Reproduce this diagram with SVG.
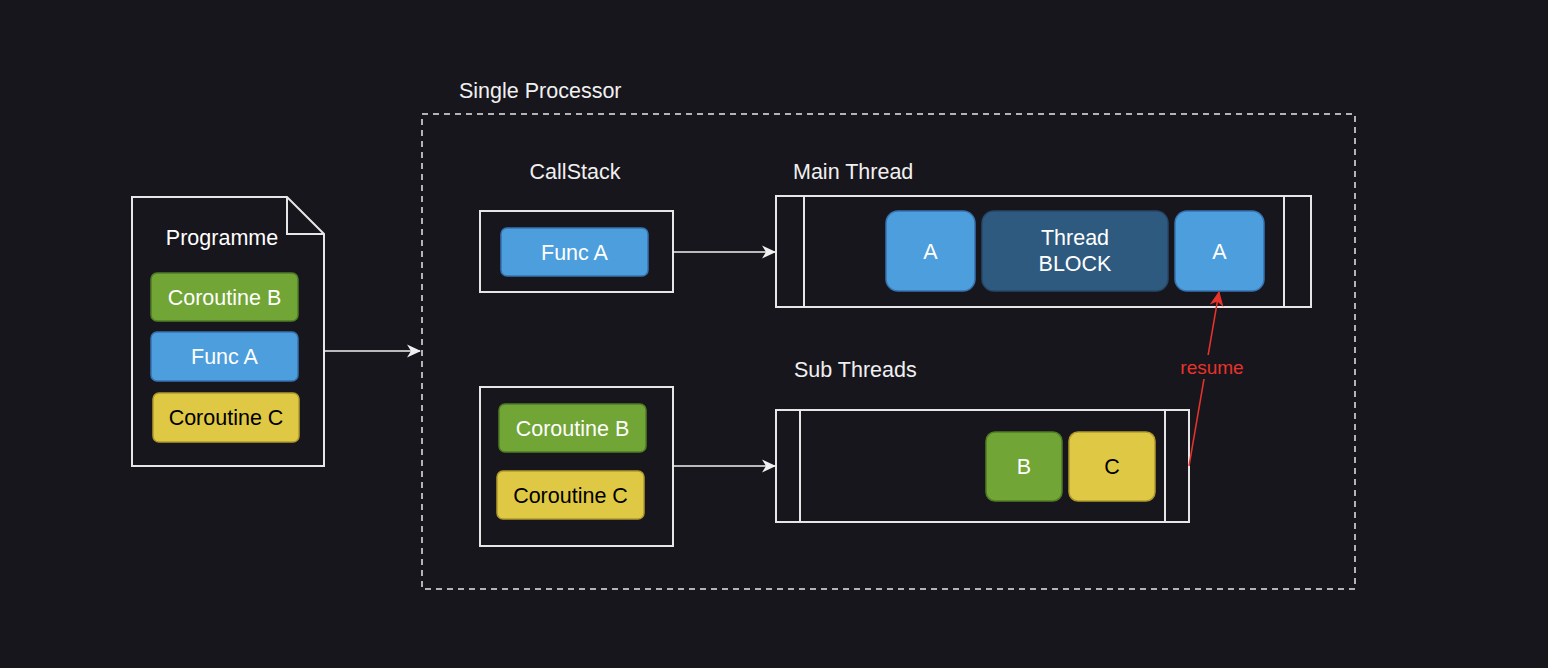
<svg xmlns="http://www.w3.org/2000/svg" width="1548" height="668" viewBox="0 0 1548 668">
<defs>
<style>
text{font-family:"Liberation Sans",Arial,sans-serif;font-size:21.5px;}
.w{fill:#ffffff;}
.k{fill:#000000;}
.lbl{fill:#f0f0f0;}
.c{text-anchor:middle;}
.frame{fill:#18161d;stroke:#e6e6e6;stroke-width:2;}
.blue{fill:#4c9edc;stroke:#3673b0;stroke-width:1.5;}
.green{fill:#71a535;stroke:#4f7c24;stroke-width:1.5;}
.yellow{fill:#dfc843;stroke:#b09a2c;stroke-width:1.5;}
.dark{fill:#2f5a7f;stroke:#24486a;stroke-width:1.5;}
.conn{fill:none;stroke:#f0f0f0;stroke-width:1.5;}
</style>
<marker id="arr" viewBox="0 0 14 14" refX="13" refY="7" markerWidth="14" markerHeight="14" markerUnits="userSpaceOnUse" orient="auto">
<path d="M0,0.5 L14,7 L0,13.5 L4,7 Z" fill="#f0f0f0"/>
</marker>
<marker id="arrR" viewBox="0 0 14 14" refX="13" refY="7" markerWidth="15" markerHeight="15" markerUnits="userSpaceOnUse" orient="auto">
<path d="M0,0.5 L14,7 L0,13.5 L4,7 Z" fill="#e8332a"/>
</marker>
</defs>
<rect width="1548" height="668" fill="#18161d"/>

<g id="processor">
<rect x="422" y="114" width="933" height="475" fill="none" stroke="#e6e6e6" stroke-width="1.5" stroke-dasharray="6 5"/>
<text class="lbl" x="459" y="98">Single Processor</text>
</g>

<g id="programme">
<path class="frame" d="M132,197 L287,197 L324,234 L324,466 L132,466 Z"/>
<path d="M287,197 L287,234 L324,234" fill="none" stroke="#e6e6e6" stroke-width="2"/>
<text class="w c" x="222" y="245">Programme</text>
<rect class="green" x="151" y="273" width="147" height="48" rx="6"/>
<text class="w c" x="224.5" y="305">Coroutine B</text>
<rect class="blue" x="151" y="332" width="147" height="49" rx="6"/>
<text class="w c" x="224.5" y="364">Func A</text>
<rect class="yellow" x="153" y="393" width="146" height="49" rx="6"/>
<text class="k c" x="226" y="425">Coroutine C</text>
</g>

<g id="callstack">
<text class="lbl c" x="575" y="179">CallStack</text>
<rect class="frame" x="480" y="211" width="193" height="81"/>
<rect class="blue" x="501" y="228" width="147" height="48" rx="6"/>
<text class="w c" x="574.5" y="260">Func A</text>
</g>

<g id="coroutines">
<rect class="frame" x="480" y="387" width="193" height="159"/>
<rect class="green" x="499" y="404" width="147" height="48" rx="6"/>
<text class="w c" x="572.5" y="436">Coroutine B</text>
<rect class="yellow" x="497" y="471" width="147" height="48" rx="6"/>
<text class="k c" x="570.5" y="503">Coroutine C</text>
</g>

<g id="mainthread">
<text class="lbl" x="793" y="179">Main Thread</text>
<rect class="frame" x="776" y="196" width="535" height="111"/>
<line x1="804" y1="196" x2="804" y2="307" stroke="#e6e6e6" stroke-width="2"/>
<line x1="1284" y1="196" x2="1284" y2="307" stroke="#e6e6e6" stroke-width="2"/>
<rect class="blue" x="886" y="211" width="89" height="80" rx="12"/>
<text class="w c" x="930.5" y="259">A</text>
<rect class="dark" x="982" y="211" width="186" height="80" rx="12"/>
<text class="w c" x="1075" y="245">Thread</text>
<text class="w c" x="1075" y="271">BLOCK</text>
<rect class="blue" x="1175" y="211" width="89" height="80" rx="12"/>
<text class="w c" x="1219.5" y="259">A</text>
</g>

<g id="subthreads">
<text class="lbl" x="794" y="377">Sub Threads</text>
<rect class="frame" x="776" y="410" width="413" height="112"/>
<line x1="800" y1="410" x2="800" y2="522" stroke="#e6e6e6" stroke-width="2"/>
<line x1="1165" y1="410" x2="1165" y2="522" stroke="#e6e6e6" stroke-width="2"/>
<rect class="green" x="986" y="432" width="76" height="69" rx="9"/>
<text class="w c" x="1024" y="474">B</text>
<rect class="yellow" x="1069" y="432" width="86" height="69" rx="9"/>
<text class="k c" x="1112" y="474">C</text>
</g>

<g id="connectors">
<line class="conn" x1="324" y1="351" x2="420" y2="351" marker-end="url(#arr)"/>
<line class="conn" x1="673" y1="252" x2="775" y2="252" marker-end="url(#arr)"/>
<line class="conn" x1="673" y1="466" x2="775" y2="466" marker-end="url(#arr)"/>
<line x1="1189" y1="466" x2="1219" y2="292" fill="none" stroke="#e8332a" stroke-width="1.5" marker-end="url(#arrR)"/>
<rect x="1174" y="355" width="76" height="24" fill="#18161d"/>
<text x="1212" y="374" class="c" style="fill:#e8332a;font-size:19px">resume</text>
</g>
</svg>
